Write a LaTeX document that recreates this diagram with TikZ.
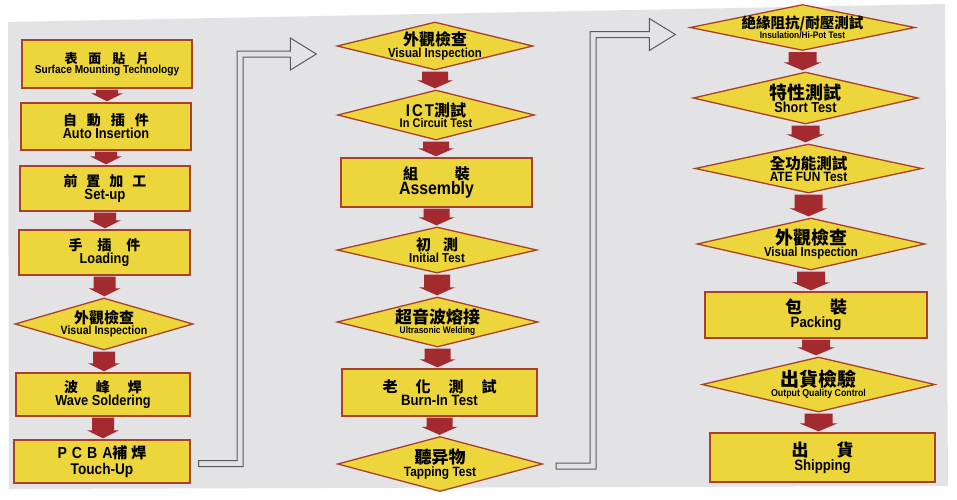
\documentclass[tikz,border=0pt]{standalone}
\usepackage{fontspec}
\usepackage{tikz}
\usetikzlibrary{shapes.geometric, arrows.meta, positioning, calc}
\setmainfont{Liberation Sans}
\newfontfamily\zhfont{Noto Sans CJK TC}
\newfontfamily\enfont{Liberation Sans}[FakeStretch=0.88]
\definecolor{Board_Grey}{HTML}{E3E3E6}
\definecolor{Step_Yellow}{HTML}{EDD63C}
\definecolor{Step_Border}{HTML}{A8402A}
\definecolor{Flow_Red}{HTML}{A32B2F}
\definecolor{Link_Grey}{HTML}{5A5A5A}

\newcommand{\zh}[2][14]{{\zhfont\bfseries\fontsize{#1}{#1}\selectfont #2}}
\newcommand{\en}[2][13]{{\enfont\bfseries\fontsize{#1}{#1}\selectfont #2}}
% fat down arrow: half shaft width, from node, to node
\newcommand{\flowarrow}[3]{%
  \fill[flowfill] let \p1=(#2.south), \p2=(#3.north) in
    (\x1-#1,\y1-1pt) -- (\x1+#1,\y1-1pt) -- (\x1+#1,\y2+9pt) -- (\x1+#1+5pt,\y2+9pt)
    -- (\x1,\y2+1pt) -- (\x1-#1-5pt,\y2+9pt) -- (\x1-#1,\y2+9pt) -- cycle;}
% hollow double-line link: start, x of riser, tip
\newcommand{\hollowlink}[3]{%
  \draw[linkarrow] let \p1=(#1), \p2=(#3) in
    (\x1,\y1+3pt) -- (#2-3pt,\y1+3pt) -- (#2-3pt,\y2+3pt) -- (\x2-26pt,\y2+3pt)
    -- (\x2-26pt,\y2+16pt) -- (\x2,\y2) -- (\x2-26pt,\y2-16pt) -- (\x2-26pt,\y2-3pt)
    -- (#2+3pt,\y2-3pt) -- (#2+3pt,\y1-3pt) -- (\x1,\y1-3pt) -- cycle;}

\tikzset{
  stepbox/.style={rectangle, draw=Step_Border, fill=Step_Yellow, line width=1.3pt,
    inner sep=0pt, align=center, font=\fontsize{10}{10}\selectfont},
  checkbox/.style={diamond, aspect=4, draw=Step_Border, fill=Step_Yellow, line width=1.3pt,
    inner sep=-8pt, align=center, font=\fontsize{10}{10}\selectfont},
  flowfill/.style={fill=Flow_Red},
  linkarrow/.style={draw=Link_Grey, line width=1pt, fill=Board_Grey, line join=miter},
}

\begin{document}
\begin{tikzpicture}[x=1pt, y=-1pt]
\useasboundingbox (0,0) rectangle (957,499);
\fill[white] (0,0) rectangle (957,499);
\fill[Board_Grey] (8,22) -- (945,4) -- (948,486) -- (9,489) -- cycle;

% --- Column 1 ---
\node[stepbox, minimum width=170pt, minimum height=48pt] (smt) at (107,64)
  {\zh[13]{表\hspace{11pt}面\hspace{11pt}貼\hspace{11pt}片}\\\en[11.5]{Surface Mounting Technology}};
\node[stepbox, minimum width=170pt, minimum height=47pt] (auto) at (106,126.5)
  {\zh{自\hspace{10pt}動\hspace{10pt}插\hspace{10pt}件}\\\en[14.5]{Auto Insertion}};
\node[stepbox, minimum width=170pt, minimum height=45pt] (setup) at (105,188.5)
  {\zh{前\hspace{9pt}置\hspace{9pt}加\hspace{9pt}工}\\\en[15]{Set-up}};
\node[stepbox, minimum width=171pt, minimum height=45pt] (load) at (104.5,252.5)
  {\zh{手\hspace{15pt}插\hspace{15pt}件}\\\en[14.5]{Loading}};
\node[checkbox, minimum width=178pt, minimum height=52pt] (vis1) at (104,324)
  {\zh[15]{外觀檢查}\\\en[12]{Visual Inspection}};
\node[stepbox, minimum width=174pt, minimum height=43pt] (wave) at (103,394.5)
  {\zh{波\hspace{18pt}峰\hspace{18pt}焊}\\\en[14.5]{Wave Soldering}};
\node[stepbox, minimum width=176pt, minimum height=43pt] (touch) at (102,461.5)
  {\en[16]{P\hspace{5pt}C\hspace{5pt}B\hspace{5pt}A}\zh[15]{補\hspace{4pt}焊}\\[2pt]\en[15.5]{Touch-Up}};

% --- Column 2 ---
\node[checkbox, minimum width=196pt, minimum height=48pt] (vis2) at (435,46)
  {\zh[16]{外觀檢查}\\\en[13]{Visual Inspection}};
\node[checkbox, minimum width=197pt, minimum height=50pt] (ict) at (436,115)
  {\en[17]{I\hspace{2pt}C\hspace{2pt}T}\zh[16]{測試}\\\en[12.5]{In Circuit Test}};
\node[stepbox, minimum width=191pt, minimum height=49pt] (asm) at (436.5,182.5)
  {\zh[15]{組\hspace{37pt}裝}\\\en[18]{Assembly}};
\node[checkbox, minimum width=200pt, minimum height=46pt] (init) at (437,250)
  {\zh[15]{初\hspace{12pt}測}\\\en[13]{Initial Test}};
\node[checkbox, minimum width=201pt, minimum height=50pt] (ultra) at (437.5,322)
  {\zh[17]{超音波熔接}\\\en[9.5]{Ultrasonic Welding}};
\node[stepbox, minimum width=195pt, minimum height=47pt] (burn) at (439.5,392.5)
  {\zh[15]{老\hspace{18pt}化\hspace{18pt}測\hspace{18pt}試}\\\en[15]{Burn-In Test}};
\node[checkbox, minimum width=205pt, minimum height=55pt] (tap) at (440,464)
  {\zh[17]{聽异物}\\\en[13.5]{Tapping Test}};

% --- Column 3 ---
\node[checkbox, minimum width=225pt, minimum height=46pt] (ins) at (802.5,27.5)
  {\zh[14.5]{絶緣阻抗/耐壓測試}\\\en[9.5]{Insulation/Hi-Pot Test}};
\node[checkbox, minimum width=225pt, minimum height=52pt] (short) at (805.5,98)
  {\zh[18]{特性測試}\\\en[14.5]{Short Test}};
\node[checkbox, minimum width=227pt, minimum height=49pt] (ate) at (808.5,168.5)
  {\zh[15.5]{全功能測試}\\\en[13.5]{ATE FUN Test}};
\node[checkbox, minimum width=228pt, minimum height=52pt] (vis3) at (811,244)
  {\zh[18]{外觀檢查}\\\en[13]{Visual Inspection}};
\node[stepbox, minimum width=222pt, minimum height=46pt] (pack) at (816,315)
  {\zh[17]{包\hspace{28pt}裝}\\\en[15]{Packing}};
\node[checkbox, minimum width=233pt, minimum height=55pt] (oqc) at (818.5,384.5)
  {\zh[19]{出貨檢驗}\\\en[10]{Output Quality Control}};
\node[stepbox, minimum width=225pt, minimum height=49pt] (ship) at (822.5,457.5)
  {\zh[17]{出\hspace{28pt}貨}\\\en[15]{Shipping}};

% flow arrows
\foreach \a/\b in {smt/auto, auto/setup, setup/load, load/vis1, vis1/wave, wave/touch}
  \flowarrow{11pt}{\a}{\b};
\foreach \a/\b in {vis2/ict, ict/asm, asm/init, init/ultra, ultra/burn, burn/tap}
  \flowarrow{13pt}{\a}{\b};
\foreach \a/\b in {ins/short, short/ate, ate/vis3, vis3/pack, pack/oqc, oqc/ship}
  \flowarrow{14pt}{\a}{\b};

% links between columns
\coordinate (touchout) at ($(touch.east)+(8,2)$);
\coordinate (vis2in) at ($(vis2.west)+(-20,8)$);
\coordinate (tapout) at ($(tap.east)+(13,2)$);
\coordinate (insin) at ($(ins.west)+(-14,7)$);
\hollowlink{touchout}{240pt}{vis2in}
\hollowlink{tapout}{593pt}{insin}
\end{tikzpicture}
\end{document}
